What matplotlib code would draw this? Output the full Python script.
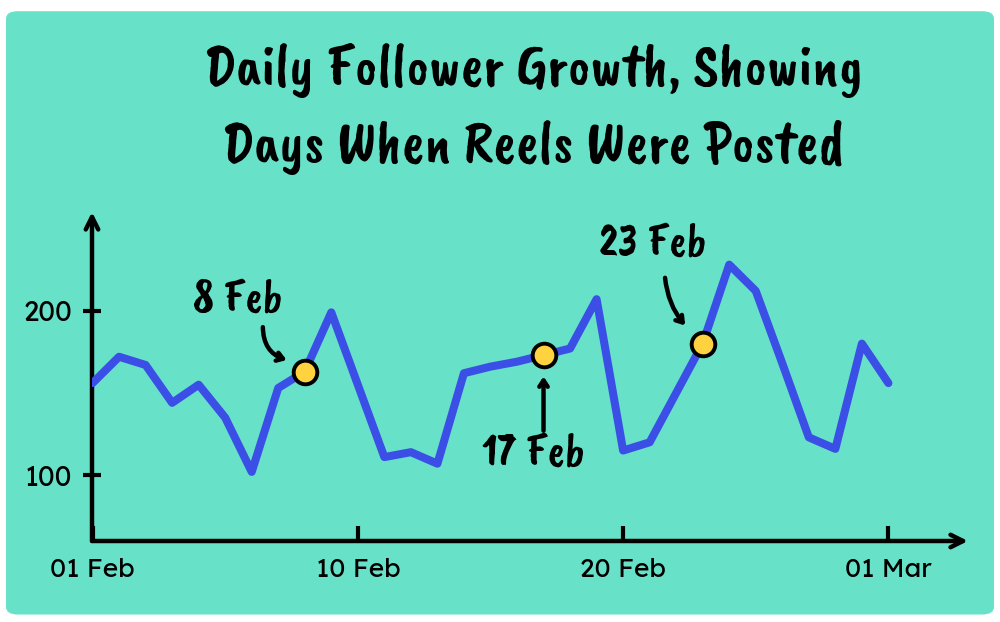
import matplotlib
matplotlib.use("Agg")
import matplotlib.pyplot as plt
from matplotlib.patches import FancyBboxPatch

# ---- data ----
days = list(range(0, 31))  # day index: 0 -> 01 Feb axis origin ... 30 -> 01 Mar
followers = [156, 172, 167, 144, 155, 135, 102, 153, 163, 199,
             155, 111, 114, 107, 162, 166, 169, 173, 177, 207,
             115, 120, 150, 180, 228, 212, 168, 123, 116, 180, 156]
reel_days = [8, 17, 23]
reel_labels = ["8 Feb", "17 Feb", "23 Feb"]
x_ticks = [0, 10, 20, 30]
x_tick_labels = ["01 Feb", "10 Feb", "20 Feb", "01 Mar"]
y_ticks = [100, 200]
title = "Daily Follower Growth, Showing\nDays When Reels Were Posted"

TEAL = "#67E2C9"
BLUE = "#3B4FE6"
YELLOW = "#FFD23F"

hand = dict(family=["Caveat Brush", "Gochi Hand", "DejaVu Sans"])
sans = ["Lexend", "Outfit", "Lato", "DejaVu Sans"]

fig = plt.figure(figsize=(10, 6.22), dpi=100)
fig.patch.set_facecolor("white")

bg = FancyBboxPatch((0.006, 0.012), 0.988, 0.97, boxstyle="round,pad=0,rounding_size=0.012",
                    transform=fig.transFigure, facecolor=TEAL, edgecolor="none", zorder=-5)
fig.patches.append(bg)

fig.text(0.533, 0.823, title, ha="center", va="center", fontsize=43, linespacing=1.45,
         color="black", zorder=5, **hand)

ax = fig.add_axes([0.092, (622 - 541) / 622, 0.876, (541 - 212) / 622])
ax.set_zorder(2)
ax.set_facecolor("none")
ax.set_xlim(-0.02, 33.0)
ax.set_ylim(60, 260)
for s in ax.spines.values():
    s.set_visible(False)

# axes with arrows
for tip in [(1, 0), (0, 1)]:
    ax.annotate("", xy=tip, xytext=(0, 0), xycoords="axes fraction",
                arrowprops=dict(arrowstyle="->,head_length=0.9,head_width=0.45", lw=3.2,
                                color="black", capstyle="round", joinstyle="round",
                                shrinkA=0, shrinkB=0))

ax.set_xticks(x_ticks)
ax.set_xticklabels(x_tick_labels)
ax.set_yticks(y_ticks)
ax.tick_params(axis="x", direction="in", length=11, width=3, pad=12, labelsize=19)
ax.tick_params(axis="y", direction="inout", length=13, width=3, pad=8, labelsize=20)
for lab in ax.get_xticklabels() + ax.get_yticklabels():
    lab.set_family(sans)
    lab.set_fontweight("normal")

ax.plot(days, followers, color=BLUE, lw=5.8, solid_joinstyle="round",
        solid_capstyle="round", zorder=3)
ax.plot(reel_days, [followers[d] for d in reel_days], "o", color=YELLOW,
        markersize=17, markeredgecolor="black", markeredgewidth=2.8, zorder=4)

# annotations: (text dx, text dy, arrow start dx, dy, arrow end dx, dy, curvature)
annots = {8: (-2.53, 43, -1.58, 27, -0.68, 7, 0.35),
          17: (-0.4, -61, 0.0, -46, 0.0, -13, 0.0),
          23: (-1.87, 60, -1.42, 40, -0.66, 11, 0.15)}
for d, lab in zip(reel_days, reel_labels):
    tx, ty, sx, sy, ex, ey, rad = annots[d]
    y = followers[d]
    ax.text(d + tx, y + ty, lab, ha="center", va="center", fontsize=33, **hand)
    ax.annotate("", xy=(d + ex, y + ey), xytext=(d + sx, y + sy),
                arrowprops=dict(arrowstyle="->,head_length=0.45,head_width=0.3", lw=3.2,
                                color="black", connectionstyle=f"arc3,rad={rad}",
                                shrinkA=0, shrinkB=0, capstyle="round", joinstyle="round"))

fig.savefig("out.png", dpi=100, facecolor="white")
